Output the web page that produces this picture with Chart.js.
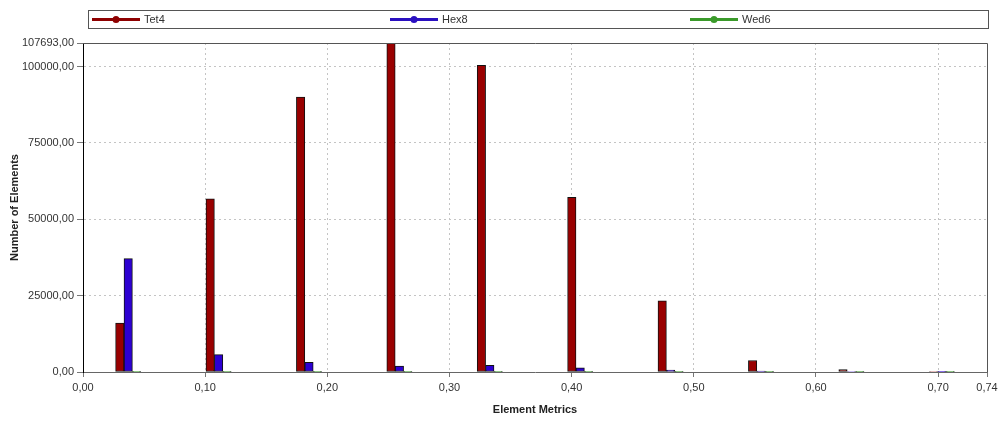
<!DOCTYPE html>
<html>
<head>
<meta charset="utf-8">
<script src="https://cdn.jsdelivr.net/npm/chart.js"></script>
<style>
  html, body { margin: 0; padding: 0; background: #fff; }
</style>
</head>
<body>
<canvas id="metricsChart" width="1003" height="421"></canvas>
<script>
    // histogram bins (centre of each bin) and element counts per element type
    const binCenters = [0.037, 0.111, 0.185, 0.259, 0.333, 0.407, 0.481, 0.555, 0.629, 0.703];
    const tet4 = [16000, 56700, 90000, 107693, 100400, 57200, 23300, 3750, 800, 150];
    const hex8 = [37100, 5700, 3200, 1900, 2200, 1350, 600, 300, 150, 100];
    const wed6 = [120, 120, 100, 100, 100, 100, 100, 100, 100, 100];
    const xTicks = [0, 0.1, 0.2, 0.3, 0.4, 0.5, 0.6, 0.7, 0.74];
    const yTicks = [0, 25000, 50000, 75000, 100000, 107693];

    Chart.defaults.font.family = '"Liberation Sans", Arial, sans-serif';
    Chart.defaults.font.size = 11;
    Chart.defaults.color = '#333';

    function toPoints(values) {
        return values.map((v, i) => ({ x: binCenters[i], y: v }));
    }

    function commaFormat(value) {
        return Number(value).toFixed(2).replace('.', ',');
    }

    // legend box and plot frame, drawn like the original tool does
    const frameAndLegend = {
        id: 'frameAndLegend',
        afterDraw(chart) {
            const ctx = chart.ctx;
            const area = chart.chartArea;
            ctx.save();
            ctx.strokeStyle = '#555';
            ctx.lineWidth = 1;
            ctx.beginPath();
            ctx.moveTo(area.left, area.top + 0.5);
            ctx.lineTo(area.right + 0.5, area.top + 0.5);
            ctx.lineTo(area.right + 0.5, area.bottom);
            ctx.stroke();

            ctx.strokeRect(88.5, 10.5, 900, 18);
            const slots = [92, 390, 690];
            chart.data.datasets.forEach((ds, i) => {
                const x0 = slots[i];
                ctx.strokeStyle = ds.legendColor;
                ctx.lineWidth = 3;
                ctx.beginPath();
                ctx.moveTo(x0, 19.5);
                ctx.lineTo(x0 + 48, 19.5);
                ctx.stroke();
                ctx.fillStyle = ds.legendColor;
                ctx.beginPath();
                ctx.arc(x0 + 24, 19.5, 3.5, 0, Math.PI * 2);
                ctx.fill();
                ctx.fillStyle = '#333';
                ctx.font = '11px "Liberation Sans", Arial, sans-serif';
                ctx.textBaseline = 'middle';
                ctx.fillText(ds.label, x0 + 52, 19.5);
            });
            ctx.restore();
        }
    };

    const gridColor = (edgeValues) => (c) =>
        (c.tick && edgeValues.includes(c.tick.value)) ? 'rgba(0,0,0,0)' : '#c4c4c4';

    new Chart(document.getElementById('metricsChart'), {
        type: 'bar',
        data: {
            datasets: [
                { label: 'Tet4', data: toPoints(tet4), backgroundColor: '#990000', legendColor: '#8e0000' },
                { label: 'Hex8', data: toPoints(hex8), backgroundColor: '#2d00d2', legendColor: '#2a10c0' },
                { label: 'Wed6', data: toPoints(wed6), backgroundColor: '#3a9a2a', legendColor: '#3a9a2a' }
            ]
        },
        options: {
            responsive: false,
            animation: false,
            layout: { padding: { top: 43, right: 16, left: 0, bottom: 0 } },
            datasets: {
                bar: {
                    barThickness: 8.4,
                    borderColor: '#111',
                    borderWidth: 1,
                    borderSkipped: false
                }
            },
            plugins: {
                legend: { display: false },
                tooltip: { enabled: false }
            },
            scales: {
                x: {
                    type: 'linear',
                    min: 0,
                    max: 0.74,
                    offset: false,
                    afterFit(scale) { scale.height = 49; },
                    afterBuildTicks(scale) { scale.ticks = xTicks.map(v => ({ value: v })); },
                    ticks: { autoSkip: false, maxRotation: 0, padding: 4, callback: commaFormat },
                    grid: { offset: false, color: gridColor([0, 0.74]), tickColor: '#777', tickLength: 5 },
                    border: { color: '#666', width: 1, dash: [2, 3] },
                    title: {
                        display: true,
                        text: 'Element Metrics',
                        font: { weight: 'bold', size: 11 },
                        color: '#222',
                        padding: { top: 0, bottom: 4 }
                    }
                },
                y: {
                    min: 0,
                    max: 107693,
                    afterFit(scale) { scale.width = 83; },
                    afterBuildTicks(scale) { scale.ticks = yTicks.map(v => ({ value: v })); },
                    ticks: { autoSkip: false, padding: 3, callback: commaFormat },
                    grid: { color: gridColor([0, 107693]), tickColor: '#777', tickLength: 6 },
                    border: { color: '#000', width: 1, dash: [2, 3] },
                    title: {
                        display: true,
                        text: 'Number of Elements',
                        font: { weight: 'bold', size: 11 },
                        color: '#222',
                        padding: { top: 8, bottom: 0 }
                    }
                }
            }
        },
        plugins: [frameAndLegend]
    });
</script>
</body>
</html>
